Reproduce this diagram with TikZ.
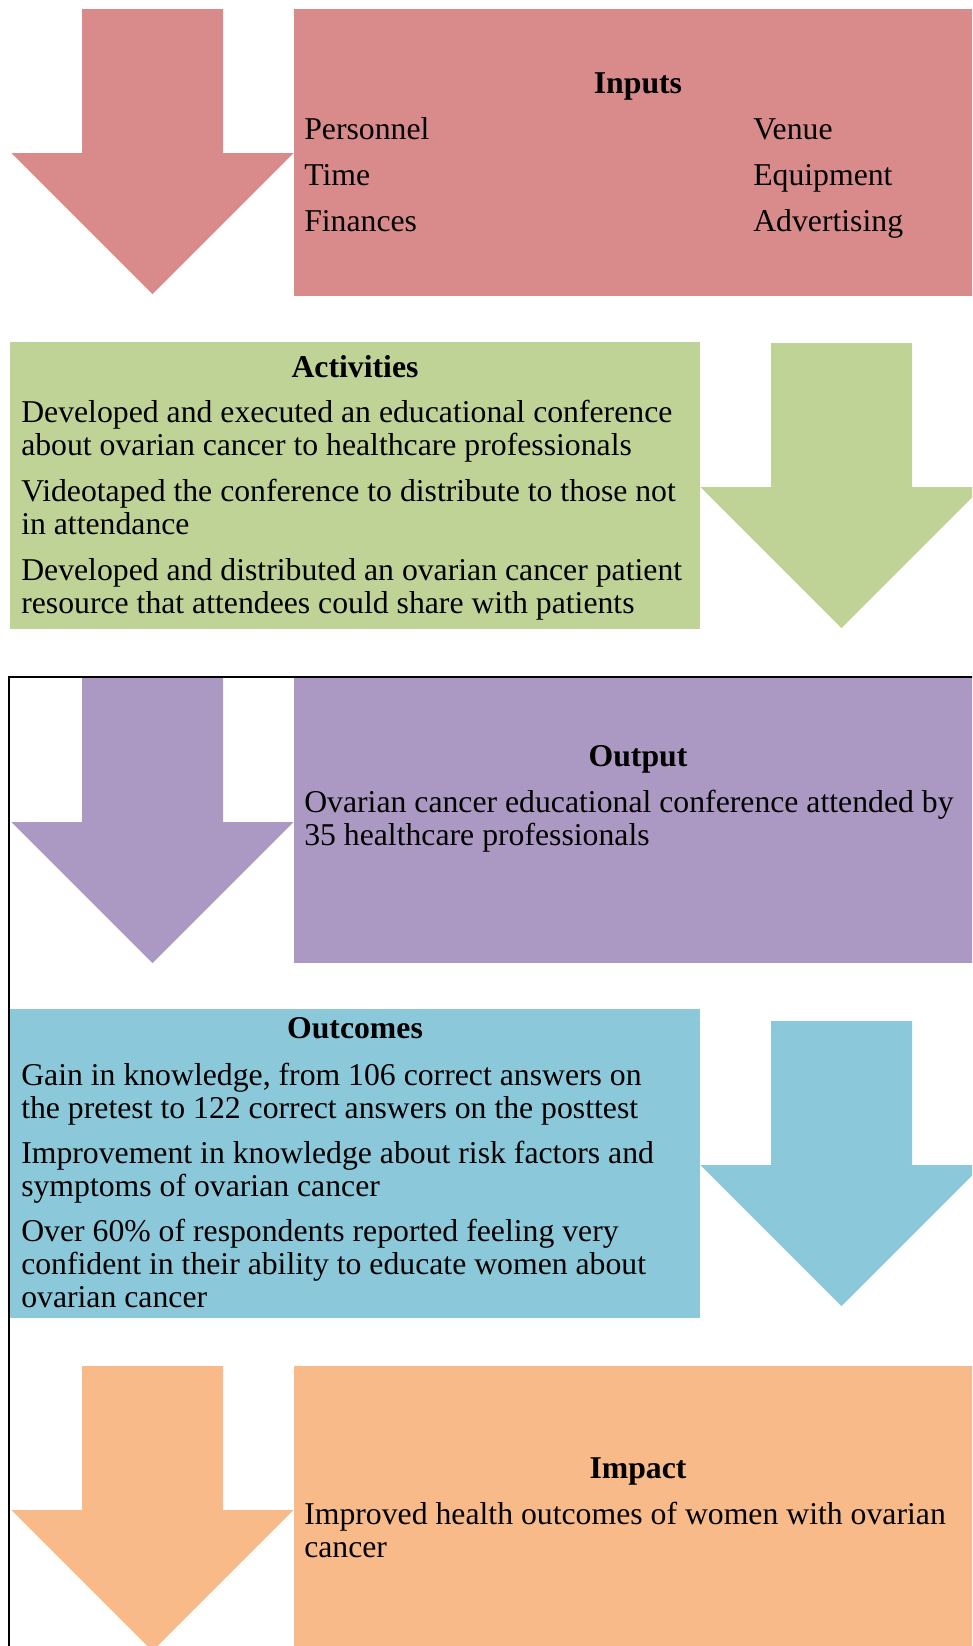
\documentclass[tikz,border=0pt]{standalone}
\usepackage{fontspec}
\setmainfont{Liberation Serif}
\usetikzlibrary{calc}

\definecolor{inputred}{RGB}{216,139,138}
\definecolor{actgreen}{RGB}{192,211,150}
\definecolor{outpurple}{RGB}{172,153,195}
\definecolor{outcblue}{RGB}{139,200,217}
\definecolor{impactorange}{RGB}{248,186,136}

\tikzset{
  flowarrow/.pic={
    \fill (-70.5,0) -- (70.5,0) -- (70.5,144) -- (141,144) -- (0,285)
      -- (-141,144) -- (-70.5,144) -- cycle;
  },
  boxtitle/.style={anchor=base, inner sep=0pt, font=\fontsize{23.8}{24.4}\selectfont\bfseries},
  % multi-line nodes sit on the baseline of their last line
  boxtext/.style={anchor=base west, inner sep=0pt, align=left, font=\fontsize{23.8}{24.4}\selectfont},
  listcol/.style={boxtext, font=\fontsize{23.8}{34.5}\selectfont}
}

\begin{document}
\begin{tikzpicture}[x=0.75pt, y=-0.75pt]
    \clip (0,0) rectangle (972,1646);

    % Coloured boxes
    \fill[inputred]     (294,9)    rectangle (985,296);
    \fill[actgreen]     (10,342)   rectangle (700,629);
    \fill[outpurple]    (294,678)  rectangle (985,963);
    \fill[outcblue]     (10,1009)  rectangle (700,1318);
    \fill[impactorange] (294,1366) rectangle (985,1660);

    % Block arrows
    \pic[fill=inputred]     at (152.5,9)    {flowarrow};
    \pic[fill=actgreen]     at (841.5,343)  {flowarrow};
    \pic[fill=outpurple]    at (152.5,678)  {flowarrow};
    \pic[fill=outcblue]     at (841.5,1021) {flowarrow};
    \pic[fill=impactorange] at (152.5,1366) {flowarrow};

    % Frame round the lower part
    \draw[line width=1.5pt] (9,1660) |- (990,677);

    % Inputs
    \node[boxtitle] (ttl-inputs) at (638,93) {Inputs};
    \node[listcol] (inputs-l) at (304,231) {Personnel\\Time\\Finances};
    \node[listcol] (inputs-r) at (753,231) {Venue\\Equipment\\Advertising};

    % Activities
    \node[boxtitle] (ttl-act) at (355,377) {Activities};
    \node[boxtext] (act-1) at (21,455) {Developed and executed an educational conference\\about ovarian cancer to healthcare professionals};
    \node[boxtext] (act-2) at (21,534) {Videotaped the conference to distribute to those not\\in attendance};
    \node[boxtext] (act-3) at (21,613) {Developed and distributed an ovarian cancer patient\\resource that attendees could share with patients};

    % Output
    \node[boxtitle] (ttl-out) at (638,766) {Output};
    \node[boxtext] (out-1) at (304,845) {Ovarian cancer educational conference attended by\\35 healthcare professionals};

    % Outcomes
    \node[boxtitle] (ttl-outc) at (355,1038) {Outcomes};
    \node[boxtext] (outc-1) at (21,1118) {Gain in knowledge, from 106 correct answers on\\the pretest to 122 correct answers on the posttest};
    \node[boxtext] (outc-2) at (21,1196) {Improvement in knowledge about risk factors and\\symptoms of ovarian cancer};
    \node[boxtext] (outc-3) at (21,1307) {Over 60\% of respondents reported feeling very\\confident in their ability to educate women about\\ovarian cancer};

    % Impact
    \node[boxtitle] (ttl-imp) at (638,1478) {Impact};
    \node[boxtext] (imp-1) at (304,1557) {Improved health outcomes of women with ovarian\\cancer};
\end{tikzpicture}
\end{document}
